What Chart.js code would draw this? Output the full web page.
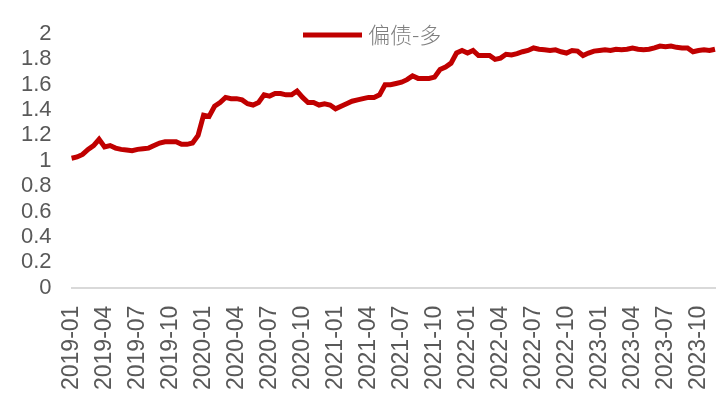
<!DOCTYPE html>
<html>
<head>
<meta charset="utf-8">
<script src="https://cdn.jsdelivr.net/npm/chart.js@4/dist/chart.umd.min.js"></script>
<style>
  html, body { margin: 0; padding: 0; background: #fff; }
  #wrap { width: 720px; height: 405px; }
</style>
</head>
<body>
<div id="wrap"><canvas id="navChart" width="720" height="405"></canvas></div>
<script>
// series name
const seriesName = '偏债-多';

// two readings per month, 2019-01 .. 2023-11
const startYear = 2019;
const pointsPerMonth = 2;

// net value
const navValues = [
    1.02, 1.03, 1.05, 1.09, 1.12, 1.17, 1.11, 1.12, 1.10, 1.09,
    1.085, 1.08, 1.09, 1.095, 1.10, 1.12, 1.14, 1.15, 1.15, 1.15,
    1.13, 1.13, 1.14, 1.20, 1.36, 1.35, 1.43, 1.46, 1.50, 1.49,
    1.49, 1.48, 1.45, 1.44, 1.46, 1.52, 1.51, 1.53, 1.53, 1.52,
    1.52, 1.55, 1.50, 1.46, 1.46, 1.44, 1.45, 1.44, 1.41, 1.43,
    1.45, 1.47, 1.48, 1.49, 1.50, 1.50, 1.52, 1.60, 1.60, 1.61,
    1.62, 1.64, 1.67, 1.65, 1.65, 1.65, 1.66, 1.72, 1.74, 1.77,
    1.85, 1.87, 1.85, 1.87, 1.83, 1.83, 1.83, 1.80, 1.81, 1.84,
    1.835, 1.845, 1.86, 1.87, 1.89, 1.88, 1.875, 1.87, 1.875, 1.86,
    1.85, 1.87, 1.865, 1.83, 1.85, 1.865, 1.87, 1.875, 1.87, 1.88,
    1.875, 1.88, 1.89, 1.88, 1.875, 1.88, 1.89, 1.905, 1.90, 1.905,
    1.895, 1.89, 1.89, 1.86, 1.87, 1.875, 1.87, 1.88
];

// y axis
const yMin = 0;
const yMax = 2;
const yStep = 0.2;

// month label for every reading
const categories = navValues.map((v, i) => {
    const m = Math.floor(i / pointsPerMonth);
    const year = startYear + Math.floor(m / 12);
    const month = String(m % 12 + 1).padStart(2, '0');
    return year + '-' + month;
});

// only quarter starts get a label
const showTick = i => i % (3 * pointsPerMonth) === 0;

// legend drawn over the plot, as in the original
const overlayLegend = {
    id: 'overlayLegend',
    afterDraw(chart) {
        const c = chart.ctx;
        const ds = chart.data.datasets[0];
        const y = 35;
        c.save();
        c.strokeStyle = ds.borderColor;
        c.lineWidth = 5;
        c.beginPath();
        c.moveTo(303, y);
        c.lineTo(362, y);
        c.stroke();
        c.fillStyle = '#7f7f7f';
        c.font = '300 22px "Noto Sans CJK SC", sans-serif';
        c.textBaseline = 'middle';
        c.fillText(ds.label, 368, y);
        c.restore();
    }
};

const ctx = document.getElementById('navChart').getContext('2d');
new Chart(ctx, {
    type: 'line',
    data: {
        labels: categories,
        datasets: [{
            label: seriesName,
            data: navValues,
            borderColor: '#c00000',
            backgroundColor: '#c00000',
            borderWidth: 5,
            pointRadius: 0,
            tension: 0,
            fill: false
        }]
    },
    options: {
        responsive: false,
        animation: false,
        layout: { padding: { left: 9, right: 5, top: 34, bottom: 5 } },
        scales: {
            x: {
                grid: { display: false },
                border: { display: true, color: '#d9d9d9', width: 2 },
                afterFit: (scale) => {
                    scale.paddingLeft = 0;
                    scale.paddingRight = 0;
                },
                ticks: {
                    autoSkip: false,
                    minRotation: 90,
                    maxRotation: 90,
                    padding: 10,
                    color: '#595959',
                    font: { family: 'Liberation Sans, Arial, sans-serif', size: 23 },
                    callback: (value, index) => showTick(index) ? categories[index] : null
                }
            },
            y: {
                min: yMin,
                max: yMax,
                grid: { display: false },
                border: { display: false },
                ticks: {
                    stepSize: yStep,
                    autoSkip: false,
                    padding: 12,
                    color: '#595959',
                    font: { family: 'Liberation Sans, Arial, sans-serif', size: 22 },
                    callback: (value) => String(Number(value.toFixed(1)))
                }
            }
        },
        plugins: {
            legend: { display: false },
            tooltip: { enabled: false }
        }
    },
    plugins: [overlayLegend]
});
</script>
</body>
</html>
